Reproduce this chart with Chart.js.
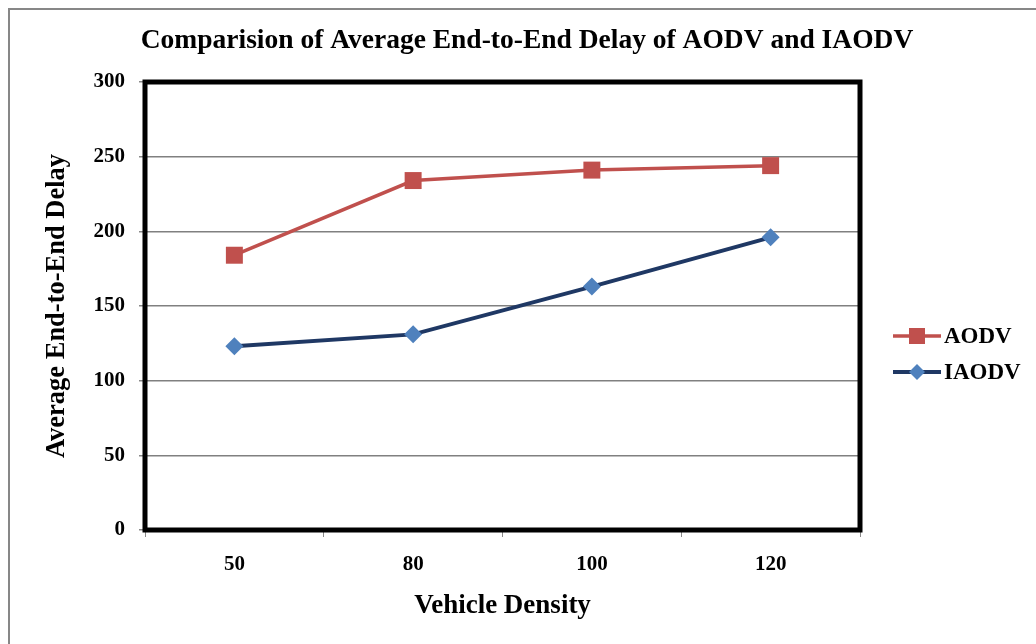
<!DOCTYPE html>
<html lang="en">
<head>
<meta charset="UTF-8">
<title>Comparision of Average End-to-End Delay of AODV and IAODV</title>
<script src="https://cdn.jsdelivr.net/npm/chart.js"></script>
<style>
  html, body { margin: 0; padding: 0; background: #fff; }
  #wrap { width: 1036px; height: 644px; }
</style>
</head>
<body>
<div id="wrap"><canvas id="delayChart" width="1036" height="644"></canvas></div>
<script>
// data
const densities = ['50', '80', '100', '120'];
const aodvDelay = [184, 234, 241, 244];
const iaodvDelay = [123, 131, 163, 196];
const seriesNames = ['AODV', 'IAODV'];
const yMin = 0, yMax = 300, yStep = 50;

const serif = "'Liberation Serif', 'Times New Roman', serif";

// outer grey frame + thick black plot border
const framePlugin = {
  id: 'frames',
  beforeDraw(chart) {
    const c = chart.ctx;
    c.save();
    c.fillStyle = '#fff';
    c.fillRect(0, 0, chart.width, chart.height);
    c.strokeStyle = '#878787';
    c.lineWidth = 2;
    c.strokeRect(9, 9, chart.width + 20, chart.height + 20);
    c.restore();
  },
  afterDatasetsDraw(chart) {
    const a = chart.chartArea;
    const c = chart.ctx;
    c.save();
    c.strokeStyle = '#000';
    c.lineWidth = 5;
    c.strokeRect(a.left, a.top, a.right - a.left, a.bottom - a.top);
    c.restore();
  }
};

// title drawn centred on the picture
const titlePlugin = {
  id: 'bigTitle',
  afterDraw(chart) {
    const c = chart.ctx;
    c.save();
    c.font = 'bold 27.5px ' + serif;
    c.fillStyle = '#000';
    c.textAlign = 'center';
    c.textBaseline = 'middle';
    c.fillText('Comparision of Average End-to-End Delay of AODV and IAODV', 527, 41);
    c.restore();
  }
};

// legend: line with marker in the middle, like the office chart
const legendPlugin = {
  id: 'sideLegend',
  afterDraw(chart) {
    const c = chart.ctx;
    const a = chart.chartArea;
    const x0 = a.right + 33;
    const rows = [336, 372];
    chart.data.datasets.forEach((ds, i) => {
      const y = rows[i];
      c.save();
      c.strokeStyle = ds.borderColor;
      c.lineWidth = ds.borderWidth;
      c.beginPath();
      c.moveTo(x0, y);
      c.lineTo(x0 + 48, y);
      c.stroke();
      c.fillStyle = ds.pointBackgroundColor;
      c.beginPath();
      if (ds.pointStyle === 'rect') {
        c.rect(x0 + 24 - 8, y - 8, 16, 16);
      } else {
        c.moveTo(x0 + 24, y - 8);
        c.lineTo(x0 + 32, y);
        c.lineTo(x0 + 24, y + 8);
        c.lineTo(x0 + 16, y);
        c.closePath();
      }
      c.fill();
      c.font = 'bold 23px ' + serif;
      c.fillStyle = '#000';
      c.textAlign = 'left';
      c.textBaseline = 'middle';
      c.fillText(ds.label, x0 + 51, y + 1);
      c.restore();
    });
  }
};

new Chart(document.getElementById('delayChart'), {
  type: 'line',
  data: {
    labels: densities,
    datasets: [
      {
        label: seriesNames[0],
        data: aodvDelay,
        borderColor: '#C0504D',
        backgroundColor: '#C0504D',
        pointBackgroundColor: '#C0504D',
        pointBorderColor: '#C0504D',
        borderWidth: 3.5,
        pointStyle: 'rect',
        pointRadius: 12,
        pointBorderWidth: 0,
        tension: 0
      },
      {
        label: seriesNames[1],
        data: iaodvDelay,
        borderColor: '#1F3864',
        backgroundColor: '#4F81BD',
        pointBackgroundColor: '#4F81BD',
        pointBorderColor: '#4F81BD',
        borderWidth: 4,
        pointStyle: 'rectRot',
        pointRadius: 9,
        pointBorderWidth: 0,
        tension: 0
      }
    ]
  },
  options: {
    responsive: false,
    animation: false,
    layout: { padding: { top: 82, right: 176, left: 8, bottom: 0 } },
    plugins: {
      legend: { display: false },
      title: { display: false },
      tooltip: { enabled: false }
    },
    scales: {
      x: {
        offset: true,
        afterFit(scale) { scale.height = 114; },
        border: { display: false },
        grid: {
          offset: true,
          drawOnChartArea: false,
          drawTicks: true,
          tickLength: 7,
          color: '#888'
        },
        ticks: {
          color: '#000',
          padding: 15,
          font: { family: serif, size: 21, weight: 'bold' }
        },
        title: {
          display: true,
          text: 'Vehicle Density',
          color: '#000',
          padding: { top: 0, bottom: 22 },
          font: { family: serif, size: 27, weight: 'bold' }
        }
      },
      y: {
        min: yMin,
        max: yMax,
        afterFit(scale) { scale.width = 137; },
        border: { display: false },
        grid: {
          color: '#808080',
          lineWidth: 1.5,
          drawTicks: true,
          tickLength: 6,
          tickColor: '#888'
        },
        ticks: {
          stepSize: yStep,
          color: '#000',
          padding: 14,
          font: { family: serif, size: 21, weight: 'bold' }
        },
        title: {
          display: true,
          text: 'Average End-to-End Delay',
          color: '#000',
          padding: { top: 33, bottom: 0 },
          font: { family: serif, size: 26.5, weight: 'bold' }
        }
      }
    }
  },
  plugins: [framePlugin, titlePlugin, legendPlugin]
});
</script>
</body>
</html>
